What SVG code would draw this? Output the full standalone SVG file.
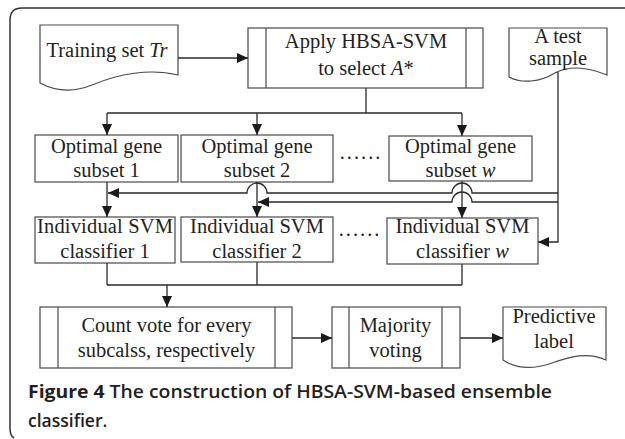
<svg xmlns="http://www.w3.org/2000/svg" width="625" height="439" viewBox="0 0 625 439">
<defs>
<marker id="ah" markerUnits="userSpaceOnUse" markerWidth="12" markerHeight="10" refX="11" refY="5" orient="auto">
<path d="M0,0 L11,5 L0,10 z" fill="#1a1a1a"/>
</marker>
<style>
.box{fill:#fff;stroke:#4a4a4a;stroke-width:1.2}
.ln{fill:none;stroke:#2a2a2a;stroke-width:1.3}
.arr{fill:none;stroke:#2a2a2a;stroke-width:1.3;marker-end:url(#ah)}
.t{font-family:"Liberation Serif","Times New Roman",serif;font-size:20.5px;fill:#231f20;text-anchor:middle}
.i{font-style:italic}
.cap{font-family:"Open Sans","Liberation Sans",sans-serif;font-size:17.5px;fill:#231f20;font-weight:600}
</style>
</defs>
<rect width="625" height="439" fill="#fff"/>
<path d="M625,8 H22 Q10,8 10,20 V428 Q10,436 14,438" fill="none" stroke="#333" stroke-width="1.5"/>

<g id="training">
<path class="box" d="M40,25 H178 V75 C150,68 118,74 92,85 C72,93 55,91 40,83 Z"/>
<text class="t" x="107" y="57">Training set <tspan class="i">Tr</tspan></text>
</g>
<g id="apply">
<rect class="box" x="248" y="28" width="235" height="60"/>
<path class="box" d="M266,28 V88 M466,28 V88"/>
<text class="t" x="366" y="48">Apply HBSA-SVM</text>
<text class="t" x="366" y="75">to select <tspan class="i">A</tspan>*</text>
</g>
<g id="test">
<path class="box" d="M509,28 H607 V75 C590,68 572,64 555,73 C540,82 522,84 509,77 Z"/>
<text class="t" x="558" y="43">A test</text>
<text class="t" x="558" y="65">sample</text>
</g>
<g id="subset1">
<rect class="box" x="35" y="135" width="143" height="47"/>
<text class="t" x="106.5" y="153">Optimal gene</text>
<text class="t" x="106.5" y="177">subset 1</text>
</g>
<g id="subset2">
<rect class="box" x="181" y="135" width="152" height="47"/>
<text class="t" x="257" y="153">Optimal gene</text>
<text class="t" x="257" y="177">subset 2</text>
</g>
<text class="t" x="361" y="159" style="letter-spacing:2px">......</text>
<g id="subsetw">
<rect class="box" x="389" y="136" width="143" height="45"/>
<text class="t" x="460.5" y="153">Optimal gene</text>
<text class="t" x="460.5" y="177">subset <tspan class="i">w</tspan></text>
</g>
<g id="clf1">
<rect class="box" x="35" y="217" width="140" height="46"/>
<text class="t" x="105" y="233" textLength="136" lengthAdjust="spacing">Individual  SVM</text>
<text class="t" x="105" y="258">classifier 1</text>
</g>
<g id="clf2">
<rect class="box" x="181" y="217" width="152" height="45"/>
<text class="t" x="257" y="233">Individual SVM</text>
<text class="t" x="257" y="258">classifier 2</text>
</g>
<text class="t" x="360" y="236" style="letter-spacing:2px">......</text>
<g id="clfw">
<rect class="box" x="387" y="218" width="151" height="46"/>
<text class="t" x="462.5" y="233">Individual SVM</text>
<text class="t" x="462.5" y="258">classifier <tspan class="i">w</tspan></text>
</g>
<g id="count">
<rect class="box" x="40" y="307" width="252" height="61"/>
<path class="box" d="M58,307 V368 M275,307 V368"/>
<text class="t" x="166.5" y="332">Count vote for every</text>
<text class="t" x="166.5" y="357">subcalss, respectively</text>
</g>
<g id="majority">
<rect class="box" x="332" y="307" width="128" height="61"/>
<path class="box" d="M349,307 V368 M442,307 V368"/>
<text class="t" x="395.5" y="332">Majority</text>
<text class="t" x="395.5" y="357">voting</text>
</g>
<g id="predictive">
<path class="box" d="M503,307 H606 V360 C588,352 572,356 552,363 C532,370 515,368 503,360 Z"/>
<text class="t" x="554" y="323">Predictive</text>
<text class="t" x="554" y="348">label</text>
</g>

<g id="connectors">
<path class="arr" d="M178,58 H248"/>
<path class="ln" d="M366,88 V113 M107,113 H462"/>
<path class="arr" d="M107,113 V135"/>
<path class="arr" d="M257,113 V135"/>
<path class="arr" d="M462,113 V136"/>
<path class="arr" d="M107,182 V217"/>
<path class="arr" d="M257,182 V217"/>
<path class="arr" d="M462,181 V218"/>
<path class="arr" d="M558,72 V242 H538"/>
<path class="arr" d="M558,193 H472 A10,10 0 0 0 452,193 H267 A10,10 0 0 0 247,193 H108"/>
<path class="arr" d="M558,202 H472 A10,10 0 0 0 452,202 H258"/>
<path class="ln" d="M107,263 V285 M257,262 V285 M462,264 V285 M107,285 H462"/>
<path class="arr" d="M167,285 V307"/>
<path class="arr" d="M292,338 H332"/>
<path class="arr" d="M460,338 H503"/>
</g>

<text class="cap" x="28" y="398" textLength="524" lengthAdjust="spacingAndGlyphs"><tspan font-weight="700">Figure 4</tspan> The construction of HBSA-SVM-based ensemble</text>
<text class="cap" x="28" y="427">classifier.</text>
</svg>
